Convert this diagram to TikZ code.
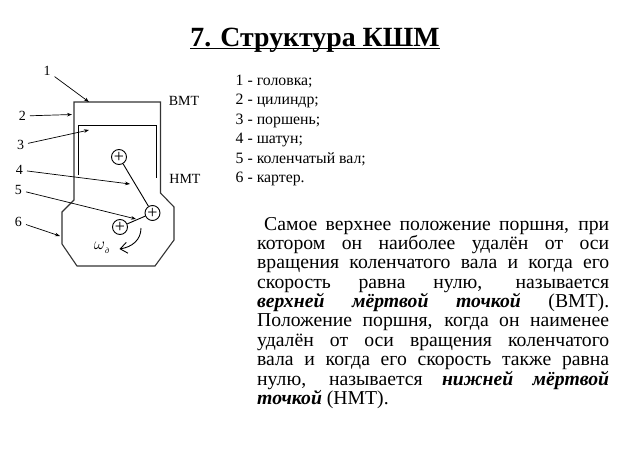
\documentclass[tikz,border=0pt]{standalone}
\usepackage{fontspec}
\setmainfont{Liberation Serif}
\usetikzlibrary{arrows.meta,calc}
\tikzset{
 numlabel/.style={inner sep=1pt,outer sep=3pt,font=\fontsize{14}{14}\selectfont},
 deadlabel/.style={inner sep=0pt,font=\fontsize{14}{14}\selectfont},
 joint/.style={circle,draw,line width=.9pt,minimum size=15pt,inner sep=0pt,fill=white,font=\fontsize{18}{18}\selectfont},
 pointer/.style={-{Stealth[length=5pt,width=3.6pt]},line width=.7pt},
 wall/.style={line width=1.1pt,black!80}
}
\begin{document}
\begin{tikzpicture}[x=1pt,y=-1pt]
 \useasboundingbox (0,0) rectangle (630,450);
 \node[anchor=base] (title) at (315,46.5) {\fontsize{27.8}{27.8}\selectfont\bfseries\underline{\smash{7. Структура КШМ}}};
 % engine body
 \draw[wall] (74,200)--(74,102)--(160.5,102)--(160.5,193)--(174,207)--(174,240)--(155,266)--(77,266)--(62,244)--(62,212)--cycle;
 \draw[line width=.9pt] (78,175)--(78,125)--(156.5,125)--(156.5,178);
 \node[joint] (piston) at (119,157) {+};
 \node[joint] (pin) at (152.5,213) {+};
 \node[joint] (shaft) at (120,227) {+};
 \draw[line width=.9pt] (piston)--(pin);
 \draw[line width=.9pt] (pin)--(shaft);
 % rotation
 \coordinate (wstart) at (141,228);
 \coordinate (wend) at (119.5,249);
 \draw[-{Straight Barb[length=7pt,width=11pt]},line width=.9pt] (wstart) .. controls (141,240) and (132,247) .. (wend);
 \node[inner sep=0pt] (omega) at (101.5,248) {\fontsize{16}{16}\selectfont$\omega$\raisebox{-4pt}{\fontsize{8}{8}\selectfont\itshape д}};
 % numbers and arrows
 \node[numlabel] (lab1) at (47,71) {1};
 \node[numlabel] (lab2) at (22.5,116) {2};
 \node[numlabel] (lab3) at (20.5,145) {3};
 \node[numlabel] (lab4) at (19.5,170) {4};
 \node[numlabel] (lab5) at (18.5,190) {5};
 \node[numlabel] (lab6) at (18.5,222) {6};
 \coordinate (tip1) at (89,102);
 \coordinate (tip2) at (72,114.5);
 \coordinate (tip3) at (89,130);
 \coordinate (tip4) at (130,184);
 \coordinate (tip5) at (136,219);
 \coordinate (tip6) at (60,236);
 \draw[pointer] (lab1)--(tip1);
 \draw[pointer] (lab2)--(tip2);
 \draw[pointer] (lab3)--(tip3);
 \draw[pointer] (lab4)--(tip4);
 \draw[pointer] (lab5)--(tip5);
 \draw[pointer] (lab6)--(tip6);
 \node[deadlabel] (bmt) at (184,101) {ВМТ};
 \node[deadlabel] (nmt) at (185,179) {НМТ};
 % list
 \node[anchor=north west,inner sep=0pt,align=left,font=\fontsize{15.8}{19.5}\selectfont] (parts) at (235.5,74.5) {1 - головка;\\2 - цилиндр;\\3 - поршень;\\4 - шатун;\\5 - коленчатый вал;\\6 - картер.};
 % text
 \node[anchor=north west,inner sep=0pt,text width=352pt,align=justify,font=\fontsize{19.7}{19.35}\selectfont] (descr) at (257,217) {\hspace*{7pt}Самое верхнее положение поршня, при\linebreak
 котором он наиболее удалён от оси\linebreak
 вращения коленчатого вала и когда его\linebreak
 скорость равна нулю, называется\linebreak
 \textbf{\textit{верхней мёртвой точкой}} (ВМТ).\linebreak
 Положение поршня, когда он наименее\linebreak
 удалён от оси вращения коленчатого\linebreak
 вала и когда его скорость также равна\linebreak
 нулю, называется \textbf{\textit{нижней мёртвой}}\linebreak
 \textbf{\textit{точкой}} (НМТ).};
\end{tikzpicture}
\end{document}
